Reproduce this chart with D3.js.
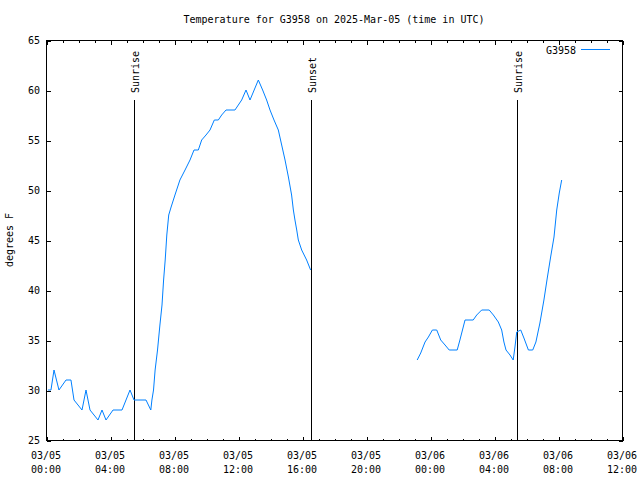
<!DOCTYPE html>
<html>
<head>
<meta charset="utf-8">
<script src="https://cdn.jsdelivr.net/npm/d3@7"></script>
<style>
    body { margin: 0; background: #fff; }
    text { font-family: "DejaVu Sans Mono", monospace; font-size: 10px; fill: #000; }
</style>
</head>
<body>
<div id="chart"></div>
<script>
// hours after 2025-03-05 00:00 UTC, null temperature = gap in the record
var obsHours = [0.12, 0.31, 0.5, 0.81, 1.25, 1.56, 1.75, 2.25, 2.5, 2.75, 3.25, 3.5, 3.75, 4.19, 4.75,
    5.25, 5.5, 6.25, 6.55, 6.62, 6.72, 6.82, 6.97, 7.12, 7.25, 7.35, 7.45, 7.55, 7.67, 7.82, 8.06,
    8.37, 8.69, 9.0, 9.25, 9.52, 9.73, 10.0, 10.25, 10.52, 10.77, 10.98, 11.25, 11.81, 12.02, 12.23,
    12.5, 12.75, 13.27, 13.54, 13.79, 14.0, 14.25, 14.52, 14.73, 14.94, 15.15, 15.35, 15.46, 15.56,
    15.67, 15.77, 15.98, 16.29, 16.54,
    20.0,
    23.2, 23.42, 23.69, 23.9, 24.15, 24.42, 24.67, 24.94, 25.2, 25.7, 25.87, 26.19, 26.7, 26.92,
    27.23, 27.7, 27.96, 28.27, 28.48, 28.62, 28.75, 29.0, 29.2, 29.31, 29.42, 29.67, 29.87, 30.15,
    30.42, 30.62, 30.87, 31.12, 31.33, 31.54, 31.75, 31.92, 32.08, 32.23];
var obsTempF = [30, 30, 32, 30, 31, 31, 29, 28, 30, 28, 27, 28, 27, 28, 28,
    30, 29, 29, 28, 29, 30, 32, 34, 36.5, 38.5, 41, 43, 45.5, 47.5, 48.3, 49.5,
    51, 52, 53, 54, 54, 55, 55.5, 56, 57, 57, 57.5, 58, 58, 58.5, 59,
    60, 59, 61, 60, 59, 58, 57, 56, 54.5, 53, 51.3, 49.5, 48, 47,
    46, 45, 44, 43, 42,
    null,
    33, 33.7, 34.8, 35.3, 36, 36, 35, 34.5, 34, 34, 35, 37, 37, 37.5,
    38, 38, 37.5, 36.8, 36, 34.8, 34, 33.5, 33, 34.3, 35.8, 36, 35.2, 34,
    34, 34.8, 36.7, 39, 41.2, 43.3, 45.3, 48, 49.7, 51];

// sun events (hours after 03/05 00:00)
var sunHours = [5.53, 16.56, 29.46];
var sunLabels = ["Sunrise", "Sunset", "Sunrise"];

// x ticks every 4 hours, two line labels
var xTickHours = [0, 4, 8, 12, 16, 20, 24, 28, 32, 36];
var xTickDays = ["03/05", "03/05", "03/05", "03/05", "03/05", "03/05", "03/06", "03/06", "03/06", "03/06"];
var xTickTimes = ["00:00", "04:00", "08:00", "12:00", "16:00", "20:00", "00:00", "04:00", "08:00", "12:00"];
var xMinorHours = d3.range(0, 37, 1);
var yTicks = [25, 30, 35, 40, 45, 50, 55, 60, 65];

var lineColor = "#0080ff";

// set the dimensions and margins of the graph
var margin = { top: 40, right: 18, bottom: 40, left: 46 },
    width = 640 - margin.left - margin.right,
    height = 480 - margin.top - margin.bottom;

var svg = d3.select("#chart")
    .append("svg")
    .attr("width", 640)
    .attr("height", 480)
    .append("g")
    .attr("transform", "translate(" + margin.left + "," + margin.top + ")");

var x = d3.scaleLinear()
    .domain([0, 36])
    .range([0, width]);

var y = d3.scaleLinear()
    .domain([25, 65])
    .range([height, 0]);

// minor ticks bottom and top
svg.append("g")
    .attr("transform", "translate(0.5," + (height + 0.5) + ")")
    .call(d3.axisBottom(x).tickValues(xMinorHours).tickSize(-2).tickFormat(""))
    .call(g => g.select(".domain").remove());
svg.append("g")
    .attr("transform", "translate(0.5,0.5)")
    .call(d3.axisTop(x).tickValues(xMinorHours).tickSize(-2).tickFormat(""))
    .call(g => g.select(".domain").remove());

// major ticks bottom and top
svg.append("g")
    .attr("transform", "translate(0.5," + (height + 0.5) + ")")
    .call(d3.axisBottom(x).tickValues(xTickHours).tickSize(-4).tickFormat(""))
    .call(g => g.select(".domain").remove());
svg.append("g")
    .attr("transform", "translate(0.5,0.5)")
    .call(d3.axisTop(x).tickValues(xTickHours).tickSize(-4).tickFormat(""))
    .call(g => g.select(".domain").remove());

// y ticks left and right (mirrored)
svg.append("g")
    .attr("transform", "translate(0.5,0.5)")
    .call(d3.axisLeft(y).tickValues(yTicks).tickSize(-4).tickFormat(""))
    .call(g => g.select(".domain").remove());
svg.append("g")
    .attr("transform", "translate(" + (width + 0.5) + ",0.5)")
    .call(d3.axisRight(y).tickValues(yTicks).tickSize(-4).tickFormat(""))
    .call(g => g.select(".domain").remove());

svg.selectAll(".tick line").attr("stroke", "#000").attr("shape-rendering", "crispEdges");

// y tick labels
svg.append("g")
    .selectAll("text")
    .data(yTicks)
    .enter()
    .append("text")
    .attr("x", -6)
    .attr("y", function(d) { return y(d) + 3.5; })
    .attr("text-anchor", "end")
    .text(function(d) { return d; });

// x tick labels, date on first row, time on second
var xLab = svg.append("g")
    .selectAll("text")
    .data(xTickHours)
    .enter()
    .append("text")
    .attr("text-anchor", "middle")
    .attr("transform", function(d) { return "translate(" + x(d) + "," + (height + 18.5) + ")"; });
xLab.append("tspan")
    .attr("x", 0)
    .attr("y", 0)
    .text(function(d, i) { return xTickDays[i]; });
xLab.append("tspan")
    .attr("x", 0)
    .attr("y", 14)
    .text(function(d, i) { return xTickTimes[i]; });

// frame
svg.append("rect")
    .attr("x", 0.5)
    .attr("y", 0.5)
    .attr("width", width)
    .attr("height", height)
    .attr("fill", "none")
    .attr("stroke", "#000")
    .attr("shape-rendering", "crispEdges");

// sunrise / sunset markers
svg.append("g")
    .selectAll("line")
    .data(sunHours)
    .enter()
    .append("line")
    .attr("x1", function(d) { return Math.round(x(d)) + 0.5; })
    .attr("x2", function(d) { return Math.round(x(d)) + 0.5; })
    .attr("y1", y(59))
    .attr("y2", height)
    .attr("stroke", "#000")
    .attr("shape-rendering", "crispEdges");

svg.append("g")
    .selectAll("text")
    .data(sunHours)
    .enter()
    .append("text")
    .attr("transform", function(d) { return "translate(" + (Math.round(x(d)) + 4.5) + "," + (y(59) - 7) + ") rotate(-90)"; })
    .attr("text-anchor", "start")
    .text(function(d, i) { return sunLabels[i]; });

// temperature line
var points = obsHours.map(function(h, i) { return { h: h, t: obsTempF[i] }; });
svg.append("path")
    .datum(points)
    .attr("fill", "none")
    .attr("stroke", lineColor)
    .attr("stroke-width", 1)
    .attr("d", d3.line()
        .defined(function(d) { return d.t != null; })
        .x(function(d) { return x(d.h); })
        .y(function(d) { return y(d.t); }));

// legend
svg.append("text")
    .attr("x", 530)
    .attr("y", 14)
    .attr("text-anchor", "end")
    .text("G3958");
svg.append("line")
    .attr("x1", 535)
    .attr("x2", 564)
    .attr("y1", 9.5)
    .attr("y2", 9.5)
    .attr("stroke", lineColor);

// title and axis label
d3.select("svg").append("text")
    .attr("x", 334)
    .attr("y", 23)
    .attr("text-anchor", "middle")
    .text("Temperature for G3958 on 2025-Mar-05 (time in UTC)");

d3.select("svg").append("text")
    .attr("transform", "translate(13,240) rotate(-90)")
    .attr("text-anchor", "middle")
    .text("degrees F");
</script>
</body>
</html>
